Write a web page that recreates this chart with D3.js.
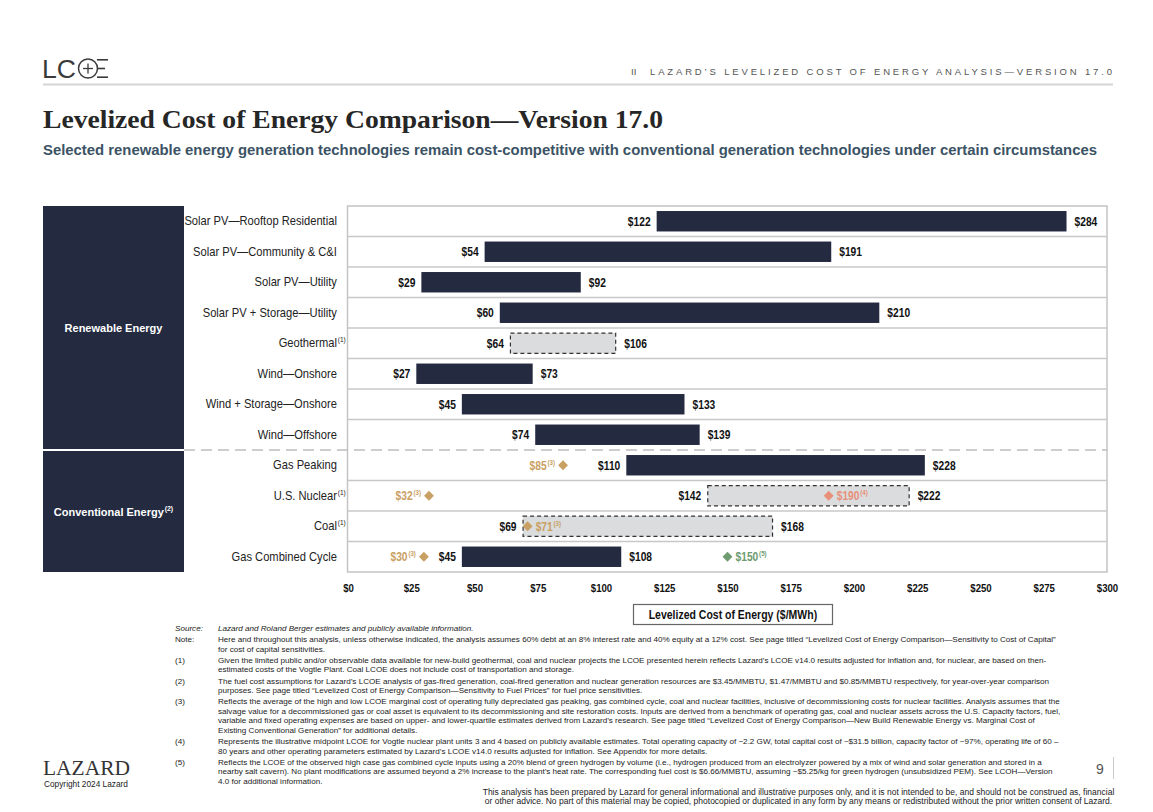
<!DOCTYPE html>
<html>
<head>
<meta charset="utf-8">
<script src="https://cdn.jsdelivr.net/npm/d3@7"></script>
<style>
  html, body { margin: 0; padding: 0; background: #fff; }
  svg { display: block; }
  .sans { font-family: "Liberation Sans", Arial, sans-serif; }
  .serif { font-family: "Liberation Serif", "Times New Roman", serif; }
</style>
</head>
<body>
<script>
// ---------------- DATA ----------------
const categories = [
  "Solar PV\u2014Rooftop Residential",
  "Solar PV\u2014Community & C&I",
  "Solar PV\u2014Utility",
  "Solar PV + Storage\u2014Utility",
  "Geothermal",
  "Wind\u2014Onshore",
  "Wind + Storage\u2014Onshore",
  "Wind\u2014Offshore",
  "Gas Peaking",
  "U.S. Nuclear",
  "Coal",
  "Gas Combined Cycle"
];
const categoryNotes = ["", "", "", "", "1", "", "", "", "", "1", "1", ""];
const groups = ["Renewable Energy", "Renewable Energy", "Renewable Energy", "Renewable Energy",
  "Renewable Energy", "Renewable Energy", "Renewable Energy", "Renewable Energy",
  "Conventional Energy", "Conventional Energy", "Conventional Energy", "Conventional Energy"];
const groupNames = ["Renewable Energy", "Conventional Energy"];
const groupNotes = ["", "2"];
const lowValues  = [122, 54, 29, 60, 64, 27, 45, 74, 110, 142, 69, 45];
const highValues = [284, 191, 92, 210, 106, 73, 133, 139, 228, 222, 168, 108];

// marker points (marginal cost / Vogtle / hydrogen blend)
const markerCategories = ["Gas Peaking", "U.S. Nuclear", "Coal", "Gas Combined Cycle", "U.S. Nuclear", "Gas Combined Cycle"];
const markerValues = [85, 32, 71, 30, 190, 150];
const markerNotes = ["3", "3", "3", "3", "4", "5"];
const markerKinds = ["marginal", "marginal", "marginal", "marginal", "vogtle", "hydrogen"];

const tickValues = [0, 25, 50, 75, 100, 125, 150, 175, 200, 225, 250, 275, 300];
const axisTitle = "Levelized Cost of Energy ($/MWh)";

const footnotes = [
  { label: "Source:", italic: true, lines: ["Lazard and Roland Berger estimates and publicly available information."] },
  { label: "Note:", italic: false, lines: [
    "Here and throughout this analysis, unless otherwise indicated, the analysis assumes 60% debt at an 8% interest rate and 40% equity at a 12% cost. See page titled \u201cLevelized Cost of Energy Comparison\u2014Sensitivity to Cost of Capital\u201d",
    "for cost of capital sensitivities."] },
  { label: "(1)", italic: false, lines: [
    "Given the limited public and/or observable data available for new-build geothermal, coal and nuclear projects the LCOE presented herein reflects Lazard\u2019s LCOE v14.0 results adjusted for inflation and, for nuclear, are based on then-",
    "estimated costs of the Vogtle Plant. Coal LCOE does not include cost of transportation and storage."] },
  { label: "(2)", italic: false, lines: [
    "The fuel cost assumptions for Lazard\u2019s LCOE analysis of gas-fired generation, coal-fired generation and nuclear generation resources are $3.45/MMBTU, $1.47/MMBTU and $0.85/MMBTU respectively, for year-over-year comparison",
    "purposes. See page titled \u201cLevelized Cost of Energy Comparison\u2014Sensitivity to Fuel Prices\u201d for fuel price sensitivities."] },
  { label: "(3)", italic: false, lines: [
    "Reflects the average of the high and low LCOE marginal cost of operating fully depreciated gas peaking, gas combined cycle, coal and nuclear facilities, inclusive of decommissioning costs for nuclear facilities. Analysis assumes that the",
    "salvage value for a decommissioned gas or coal asset is equivalent to its decommissioning and site restoration costs. Inputs are derived from a benchmark of operating gas, coal and nuclear assets across the U.S. Capacity factors, fuel,",
    "variable and fixed operating expenses are based on upper- and lower-quartile estimates derived from Lazard\u2019s research. See page titled \u201cLevelized Cost of Energy Comparison\u2014New Build Renewable Energy vs. Marginal Cost of",
    "Existing Conventional Generation\u201d for additional details."] },
  { label: "(4)", italic: false, lines: [
    "Represents the illustrative midpoint LCOE for Vogtle nuclear plant units 3 and 4 based on publicly available estimates. Total operating capacity of ~2.2 GW, total capital cost of ~$31.5 billion, capacity factor of ~97%, operating life of 60 \u2013",
    "80 years and other operating parameters estimated by Lazard\u2019s LCOE v14.0 results adjusted for inflation. See Appendix for more details."] },
  { label: "(5)", italic: false, lines: [
    "Reflects the LCOE of the observed high case gas combined cycle inputs using a 20% blend of green hydrogen by volume (i.e., hydrogen produced from an electrolyzer powered by a mix of wind and solar generation and stored in a",
    "nearby salt cavern). No plant modifications are assumed beyond a 2% increase to the plant\u2019s heat rate. The corresponding fuel cost is $6.66/MMBTU, assuming ~$5.25/kg for green hydrogen (unsubsidized PEM). See LCOH\u2014Version",
    "4.0 for additional information."] }
];
const disclaimer = [
  "This analysis has been prepared by Lazard for general informational and illustrative purposes only, and it is not intended to be, and should not be construed as, financial",
  "or other advice. No part of this material may be copied, photocopied or duplicated in any form by any means or redistributed without the prior written consent of Lazard."
];

// ---------------- LAYOUT ----------------
const W = 1153, H = 812;
const NAVY = "#242a40", GOLD = "#c9a063", SALMON = "#e8907a", GREEN = "#6e9b70";
const markerColor = { marginal: GOLD, vogtle: SALMON, hydrogen: GREEN };

const svg = d3.select("body").append("svg").attr("width", W).attr("height", H);

const plot = { left: 348, right: 1107, top: 206, bottom: 572 };
const x = d3.scaleLinear().domain([0, 300]).range([plot.left, plot.right]);
const y = d3.scaleBand().domain(categories).range([plot.top, plot.bottom]).padding(0);
const barH = y.bandwidth() * 0.67;

// helper: label with optional superscript note, horizontally condensed by factor f
// anchor: "start" | "end" | "middle" | "hang" (main text ends at x, note hangs after)
function label(parent, o) {
  const f = o.f || 1;
  const g = parent.append("g");
  const main = g.append("text").attr("class", "sans").attr("font-size", o.size)
    .attr("font-weight", o.weight || null).attr("fill", o.fill).text(o.main);
  const wm = main.node().getComputedTextLength() * f;
  let sup = null, ws = 0;
  if (o.note) {
    sup = g.append("text").attr("class", "sans").attr("font-size", o.supSize)
      .attr("font-weight", o.weight || null).attr("fill", o.fill).text("(" + o.note + ")");
    ws = sup.node().getComputedTextLength() * f + 0.8;
  }
  let x0;
  if (o.anchor === "end") x0 = o.x - wm - ws;
  else if (o.anchor === "middle") x0 = o.x - (wm + ws) / 2;
  else if (o.anchor === "hang") x0 = o.x - wm;
  else x0 = o.x;
  main.attr("transform", `translate(${x0},${o.y}) scale(${f},1)`);
  if (sup) sup.attr("transform", `translate(${x0 + wm + 0.8},${o.y - o.size * 0.42}) scale(${f},1)`);
  return g;
}

// ---------------- HEADER ----------------
const logo = svg.append("g").attr("fill", "#3a3a3a").attr("stroke", "#3a3a3a");
logo.append("text").attr("class", "sans").attr("x", 42).attr("y", 78)
  .attr("font-size", 26).attr("stroke", "none").attr("textLength", 34).attr("lengthAdjust", "spacingAndGlyphs").text("LC");
logo.append("circle").attr("cx", 88).attr("cy", 68.5).attr("r", 9.5).attr("fill", "none").attr("stroke-width", 1.5);
logo.append("line").attr("x1", 83).attr("x2", 93).attr("y1", 68.5).attr("y2", 68.5).attr("stroke-width", 1.3);
logo.append("line").attr("x1", 88).attr("x2", 88).attr("y1", 63.5).attr("y2", 73.5).attr("stroke-width", 1.3);
[[59.8, 108], [68.5, 105], [77.2, 108]].forEach(([yy, x2]) =>
  logo.append("line").attr("x1", 97).attr("x2", x2).attr("y1", yy).attr("y2", yy).attr("stroke-width", 1.6));

svg.append("text").attr("class", "sans").attr("x", 631).attr("y", 75).attr("font-size", 9.5)
  .attr("fill", "#555").text("II");
svg.append("text").attr("class", "sans").attr("x", 650).attr("y", 75).attr("font-size", 9.5)
  .attr("fill", "#555").attr("textLength", 462).attr("lengthAdjust", "spacing")
  .text("LAZARD\u2019S LEVELIZED COST OF ENERGY ANALYSIS\u2014VERSION 17.0");
svg.append("line").attr("x1", 43).attr("x2", 1113).attr("y1", 84.5).attr("y2", 84.5)
  .attr("stroke", "#d5d5d5").attr("stroke-width", 2);

svg.append("text").attr("class", "serif").attr("x", 43).attr("y", 128).attr("font-size", 25)
  .attr("font-weight", "bold").attr("fill", "#262626").attr("textLength", 620).attr("lengthAdjust", "spacingAndGlyphs")
  .text("Levelized Cost of Energy Comparison\u2014Version 17.0");
svg.append("text").attr("class", "sans").attr("x", 43).attr("y", 155).attr("font-size", 15.5)
  .attr("font-weight", "bold").attr("fill", "#3b5365").attr("textLength", 1054).attr("lengthAdjust", "spacingAndGlyphs")
  .text("Selected renewable energy generation technologies remain cost-competitive with conventional generation technologies under certain circumstances");

// ---------------- GROUP PANELS ----------------
groupNames.forEach((g, gi) => {
  const cats = categories.filter((c, i) => groups[i] === g);
  const top = y(cats[0]);
  const bottom = y(cats[cats.length - 1]) + y.bandwidth();
  const t = gi === 0 ? top : top + 1;
  const b = gi === 0 ? bottom - 1 : bottom;
  svg.append("rect").attr("x", 43).attr("y", t).attr("width", 141).attr("height", b - t).attr("fill", NAVY);
  label(svg, { x: 113.5, y: (t + b) / 2 + 4, anchor: "middle", main: g, note: groupNotes[gi],
    size: 11, supSize: 7, weight: "bold", fill: "#fff" });
});

// ---------------- PLOT FRAME & ROWS ----------------
svg.append("rect").attr("x", plot.left - 0.5).attr("y", plot.top).attr("width", plot.right - plot.left + 0.5)
  .attr("height", plot.bottom - plot.top).attr("fill", "none").attr("stroke", "#c4c4c4").attr("stroke-width", 1.5);

categories.forEach((c, i) => {
  if (i === 0) return;
  const yy = y(c);
  if (groups[i] !== groups[i - 1]) {
    svg.append("line").attr("x1", 184).attr("x2", plot.right).attr("y1", yy).attr("y2", yy)
      .attr("stroke", "#bdbdbd").attr("stroke-width", 1.5).attr("stroke-dasharray", "11,6");
  } else {
    svg.append("line").attr("x1", plot.left).attr("x2", plot.right).attr("y1", yy).attr("y2", yy)
      .attr("stroke", "#c8c8c8").attr("stroke-width", 1.5);
  }
});

// category labels
categories.forEach((c, i) => {
  label(svg, { x: 337, y: y(c) + y.bandwidth() / 2 + 4, anchor: "hang", main: c, note: categoryNotes[i],
    size: 12, supSize: 7, fill: "#222", f: 0.93 });
});

// ---------------- BARS ----------------
const rows = categories.map((c, i) => ({ c, lo: lowValues[i], hi: highValues[i], est: categoryNotes[i] === "1" }));
svg.append("g").selectAll("rect").data(rows).join("rect")
  .attr("x", d => x(d.lo) + (d.est ? 0.5 : 0))
  .attr("y", d => y(d.c) + (y.bandwidth() - barH) / 2)
  .attr("width", d => x(d.hi) - x(d.lo) - (d.est ? 1 : 0))
  .attr("height", barH)
  .attr("fill", d => d.est ? "#dadcdd" : NAVY)
  .attr("stroke", d => d.est ? "#333" : "none")
  .attr("stroke-width", 1.2)
  .attr("stroke-dasharray", d => d.est ? "4,3" : null);

const valLabels = svg.append("g");
rows.forEach(d => {
  const cy = y(d.c) + y.bandwidth() / 2 + 4.5;
  label(valLabels, { x: x(d.lo) - 6, y: cy, anchor: "end", main: "$" + d.lo, size: 12.5, weight: "bold", fill: "#111", f: 0.82 });
  label(valLabels, { x: x(d.hi) + 8, y: cy, anchor: "start", main: "$" + d.hi, size: 12.5, weight: "bold", fill: "#111", f: 0.82 });
});

// ---------------- MARKERS ----------------
const diamond = d3.symbol().type(d3.symbolDiamond2).size(62);
markerCategories.forEach((c, i) => {
  const idx = categories.indexOf(c);
  const v = markerValues[i];
  const kind = markerKinds[i];
  const col = markerColor[kind];
  const cx = x(v), cy = y(c) + y.bandwidth() / 2;
  svg.append("path").attr("d", diamond).attr("transform", `translate(${cx},${cy})`).attr("fill", col);
  const inside = v >= lowValues[idx] && v <= highValues[idx];
  const right = kind !== "marginal" || inside;
  label(svg, { x: right ? cx + 8 : cx - 8, y: cy + 4.5, anchor: right ? "start" : "end",
    main: "$" + v, note: markerNotes[i], size: 12.5, supSize: 7.5, weight: "bold", fill: col, f: 0.82 });
});

// ---------------- AXIS ----------------
const axis = d3.axisBottom(x).tickValues(tickValues).tickFormat(d => "$" + d).tickSize(0).tickPadding(0);
const ax = svg.append("g").attr("transform", `translate(0,${plot.bottom + 11})`).call(axis);
ax.select(".domain").remove();
ax.selectAll("text").attr("font-size", 11.5).attr("font-weight", "bold")
  .attr("fill", "#111").attr("dy", "0.75em").attr("transform", "scale(0.84,1)")
  .style("font-family", "'Liberation Sans',Arial,sans-serif");

svg.append("rect").attr("x", 633.5).attr("y", 604.5).attr("width", 199).attr("height", 20)
  .attr("fill", "#fff").attr("stroke", "#666").attr("stroke-width", 1.2);
label(svg, { x: 733, y: 619, anchor: "middle", main: axisTitle, size: 12.5, weight: "bold", fill: "#111", f: 0.84 });

// ---------------- FOOTNOTES ----------------
const fn = svg.append("g").attr("class", "sans").attr("font-size", 8.1).attr("fill", "#222");
let fy = 631;
footnotes.forEach(n => {
  fn.append("text").attr("x", 175).attr("y", fy).attr("font-style", n.italic ? "italic" : null).text(n.label);
  n.lines.forEach(line => {
    fn.append("text").attr("x", 218).attr("y", fy).attr("font-style", n.italic ? "italic" : null).text(line);
    fy += 9.5;
  });
  fy += 1.7;
});
disclaimer.forEach((line, i) => {
  fn.append("text").attr("x", 798.5).attr("y", 795 + i * 9.3).attr("text-anchor", "middle")
    .attr("font-size", 8.5).text(line);
});

// ---------------- FOOTER ----------------
svg.append("text").attr("class", "serif").attr("x", 43).attr("y", 775).attr("font-size", 21)
  .attr("fill", "#333").attr("textLength", 87).attr("lengthAdjust", "spacingAndGlyphs").text("LAZARD");
svg.append("text").attr("class", "sans").attr("x", 44).attr("y", 787).attr("font-size", 8.3)
  .attr("fill", "#222").text("Copyright 2024 Lazard");
svg.append("text").attr("class", "sans").attr("x", 1096).attr("y", 774).attr("font-size", 14)
  .attr("fill", "#555").text("9");
svg.append("line").attr("x1", 1113.5).attr("x2", 1113.5).attr("y1", 757).attr("y2", 779)
  .attr("stroke", "#ccc").attr("stroke-width", 1);
</script>
</body>
</html>
